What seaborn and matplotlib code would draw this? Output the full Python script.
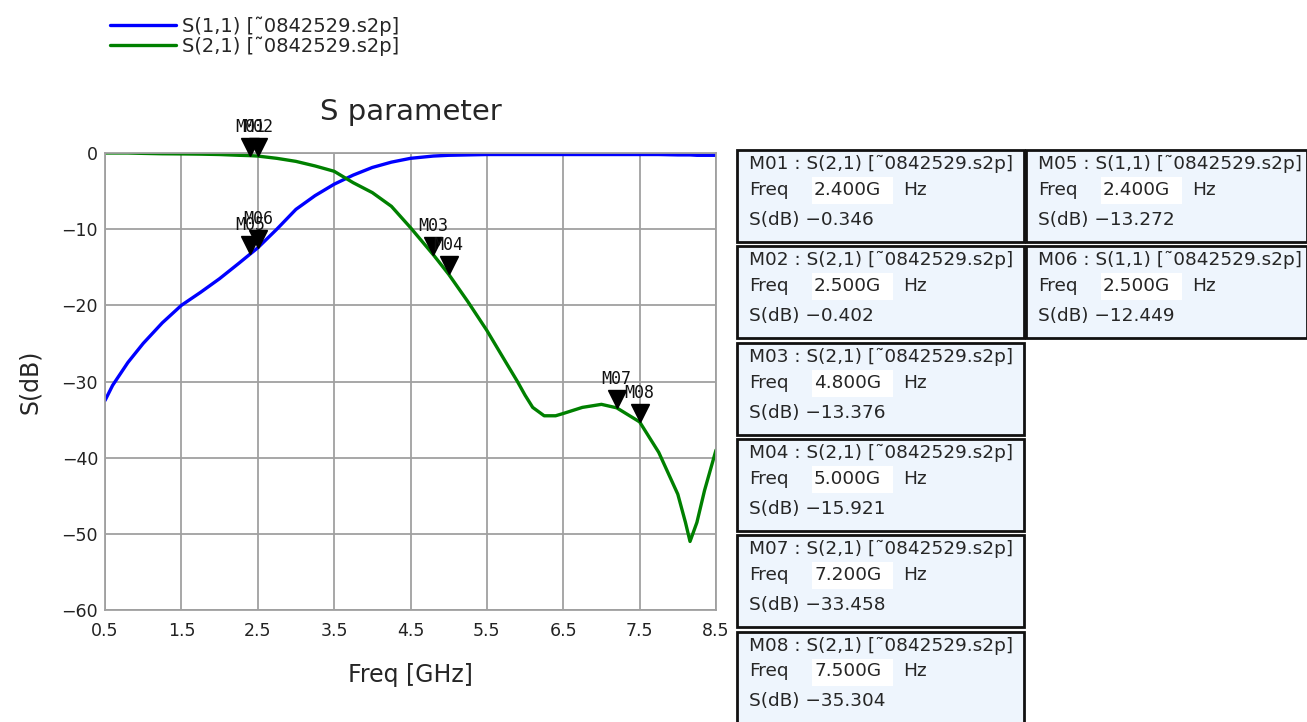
import numpy as np
import pandas as pd
import matplotlib
matplotlib.use("Agg")
import matplotlib.pyplot as plt
import matplotlib.transforms as mtransforms
from matplotlib.patches import Rectangle
import seaborn as sns

# curve samples (GHz, dB)
freq = [0.5, 0.6, 0.7, 0.8, 1.0, 1.25, 1.5, 1.75, 2.0, 2.25, 2.4, 2.5, 2.75,
        3.0, 3.25, 3.5, 3.75, 4.0, 4.25, 4.5, 4.8, 5.0, 5.25, 5.5, 5.75, 5.9,
        6.0, 6.1, 6.25, 6.4, 6.5, 6.75, 7.0, 7.2, 7.5, 7.75, 8.0, 8.1, 8.16,
        8.25, 8.35, 8.5]
s11 = [-32.5, -30.5, -29.0, -27.5, -25.0, -22.3, -20.0, -18.3, -16.5, -14.5,
       -13.27, -12.45, -10.0, -7.4, -5.6, -4.1, -2.9, -1.9, -1.2, -0.7, -0.4,
       -0.3, -0.25, -0.2, -0.2, -0.2, -0.2, -0.2, -0.2, -0.2, -0.2, -0.2,
       -0.2, -0.2, -0.2, -0.2, -0.25, -0.25, -0.25, -0.3, -0.3, -0.3]
s21 = [0.0, 0.0, 0.0, 0.0, -0.05, -0.1, -0.12, -0.15, -0.2, -0.3, -0.346,
       -0.402, -0.7, -1.1, -1.7, -2.4, -3.9, -5.2, -7.0, -9.8, -13.376,
       -15.921, -19.5, -23.3, -27.5, -30.0, -31.8, -33.4, -34.5, -34.5,
       -34.2, -33.4, -33.0, -33.458, -35.304, -39.3, -44.8, -48.5, -51.0,
       -48.5, -44.3, -39.0]
trace_names = ["S(1,1) [\u02dc0842529.s2p]", "S(2,1) [\u02dc0842529.s2p]"]

# markers
mk_names = ["M01", "M02", "M03", "M04", "M05", "M06", "M07", "M08"]
mk_trace = ["S(2,1)", "S(2,1)", "S(2,1)", "S(2,1)", "S(1,1)", "S(1,1)", "S(2,1)", "S(2,1)"]
mk_freq = [2.4, 2.5, 4.8, 5.0, 2.4, 2.5, 7.2, 7.5]
mk_db = [-0.346, -0.402, -13.376, -15.921, -13.272, -12.449, -33.458, -35.304]

df = pd.DataFrame({
    "freq": freq * 2,
    "db": s11 + s21,
    "trace": [trace_names[0]] * len(freq) + [trace_names[1]] * len(freq),
})

sns.set_style("whitegrid")
plt.rcParams["font.family"] = ["DejaVu Sans"]
plt.rcParams["axes.unicode_minus"] = True

fig = plt.figure(figsize=(13.07, 7.22), dpi=100)
ax = fig.add_axes([105 / 1307, 1 - 610 / 722, 611 / 1307, 457 / 722])

sns.lineplot(data=df, x="freq", y="db", hue="trace", sort=False,
             palette=["#0000ff", "#008000"], linewidth=2.4, ax=ax)

ax.set_xlim(0.5, 8.5)
ax.set_ylim(-60, 0)
ax.set_xticks(np.arange(0.5, 8.6, 1.0))
ax.set_xticklabels([f"{v:.1f}" for v in np.arange(0.5, 8.6, 1.0)])
ax.set_yticks(np.arange(-60, 1, 10))
ax.grid(True, color="#a0a0a0", linewidth=1.3)
for sp in ax.spines.values():
    sp.set_color("#a0a0a0")
    sp.set_linewidth(1.3)
ax.tick_params(length=0, labelsize=12.5, colors="#222222")
ax.tick_params(axis="x", pad=9)
ax.tick_params(axis="y", pad=5)
ax.set_xlabel("Freq [GHz]", fontsize=17, labelpad=16)
ax.set_ylabel("S(dB)", fontsize=17, labelpad=14)
ax.set_title("S parameter", fontsize=21, pad=24)

sns.move_legend(ax, "upper left", bbox_to_anchor=(102 / 1307, 1 - 9 / 722),
                bbox_transform=fig.transFigure, title=None, frameon=False,
                fontsize=14, handlelength=3.4, labelspacing=0.0,
                handletextpad=0.3, borderaxespad=0)

# marker triangles with labels
tri = mtransforms.offset_copy(ax.transData, fig=fig, x=0, y=9, units="dots")
lab = mtransforms.offset_copy(ax.transData, fig=fig, x=0, y=20, units="dots")
for name, f, d in zip(mk_names, mk_freq, mk_db):
    ax.plot(f, d, marker="v", color="black", markersize=12.5, transform=tri,
            linestyle="none", clip_on=False, zorder=5)
    ax.text(f, d, name, transform=lab, ha="center", va="bottom",
            fontsize=12, family="DejaVu Sans Mono", color="#111111",
            clip_on=False, zorder=6)

# marker readout boxes
ov = fig.add_axes([0, 0, 1, 1], facecolor="none")
ov.set_xlim(0, 1307)
ov.set_ylim(722, 0)
ov.axis("off")
col_x = [737, 1026]
col_w = [287, 281]
rows = [0, 0]
fs = 13.3
for name, tr, f, d in zip(mk_names, mk_trace, mk_freq, mk_db):
    c = 0 if tr == "S(2,1)" else 1
    r = rows[c]
    rows[c] += 1
    x0 = col_x[c]
    y0 = 150 + 96.3 * r
    ov.add_patch(Rectangle((x0, y0), col_w[c], 92, facecolor="#eef5fd",
                           edgecolor="#111111", linewidth=2))
    ov.add_patch(Rectangle((x0 + 75, y0 + 27), 81, 27, facecolor="white",
                           edgecolor="none"))
    ov.text(x0 + 12, y0 + 14, f"{name} : {tr} [\u02dc0842529.s2p]",
            fontsize=fs, va="center", ha="left")
    ov.text(x0 + 12, y0 + 40, "Freq", fontsize=fs, va="center")
    ov.text(x0 + 77, y0 + 40, f"{f:.3f}G", fontsize=fs, va="center")
    ov.text(x0 + 166, y0 + 40, "Hz", fontsize=fs, va="center")
    ov.text(x0 + 12, y0 + 70, f"S(dB) {d:.3f}".replace("-", "\u2212"),
            fontsize=fs, va="center")

fig.savefig("out.png", dpi=100)
